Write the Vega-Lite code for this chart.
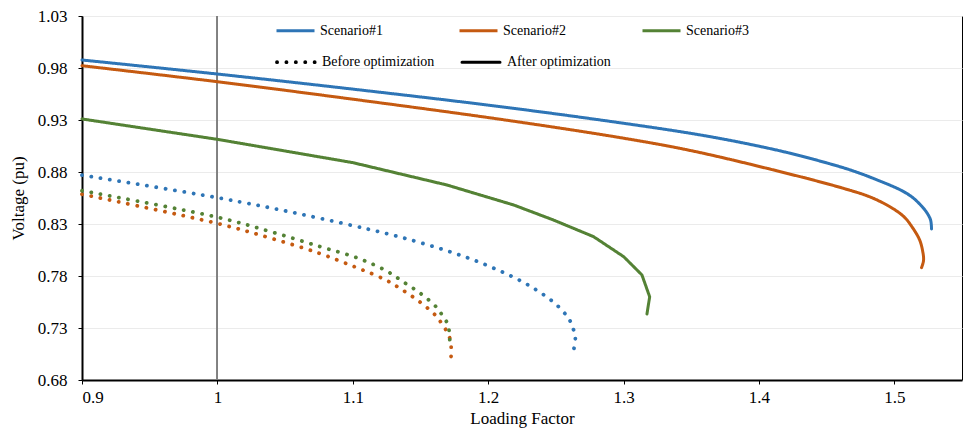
{
  "$schema": "https://vega.github.io/schema/vega-lite/v6.json",
  "width": 880,
  "height": 364,
  "autosize": {"type": "none"},
  "padding": {"left": 82, "top": 16, "right": 1, "bottom": 51},
  "background": "white",
  "config": {
    "font": "Times New Roman",
    "view": {"stroke": "#000", "strokeWidth": 1},
    "axis": {
      "labelFont": "Times New Roman",
      "labelFontSize": 17,
      "labelColor": "#000",
      "titleFont": "Times New Roman",
      "titleFontSize": 17,
      "titleFontWeight": "normal",
      "titleColor": "#000",
      "domainColor": "#000",
      "domainWidth": 2,
      "tickColor": "#000",
      "tickWidth": 1,
      "tickSize": 4
    },
    "legend": {
      "labelFont": "Times New Roman",
      "labelFontSize": 14,
      "labelColor": "#000"
    }
  },
  "data": {
    "values": [
      {"scenario": "Scenario#1", "phase": "After optimization", "L": 0.9, "v": 0.9877},
      {"scenario": "Scenario#1", "phase": "After optimization", "L": 1.0, "v": 0.9742},
      {"scenario": "Scenario#1", "phase": "After optimization", "L": 1.1, "v": 0.9597},
      {"scenario": "Scenario#1", "phase": "After optimization", "L": 1.2, "v": 0.9443},
      {"scenario": "Scenario#1", "phase": "After optimization", "L": 1.2829, "v": 0.930},
      {"scenario": "Scenario#1", "phase": "After optimization", "L": 1.3568, "v": 0.9156},
      {"scenario": "Scenario#1", "phase": "After optimization", "L": 1.4011, "v": 0.9045},
      {"scenario": "Scenario#1", "phase": "After optimization", "L": 1.4307, "v": 0.8955},
      {"scenario": "Scenario#1", "phase": "After optimization", "L": 1.4676, "v": 0.8819},
      {"scenario": "Scenario#1", "phase": "After optimization", "L": 1.4880, "v": 0.8720},
      {"scenario": "Scenario#1", "phase": "After optimization", "L": 1.5046, "v": 0.8627},
      {"scenario": "Scenario#1", "phase": "After optimization", "L": 1.5130, "v": 0.8560},
      {"scenario": "Scenario#1", "phase": "After optimization", "L": 1.5194, "v": 0.8483},
      {"scenario": "Scenario#1", "phase": "After optimization", "L": 1.5240, "v": 0.8410},
      {"scenario": "Scenario#1", "phase": "After optimization", "L": 1.5268, "v": 0.8338},
      {"scenario": "Scenario#1", "phase": "After optimization", "L": 1.5275, "v": 0.8252},

      {"scenario": "Scenario#2", "phase": "After optimization", "L": 0.9, "v": 0.9822},
      {"scenario": "Scenario#2", "phase": "After optimization", "L": 1.0, "v": 0.9668},
      {"scenario": "Scenario#2", "phase": "After optimization", "L": 1.1, "v": 0.950},
      {"scenario": "Scenario#2", "phase": "After optimization", "L": 1.2126, "v": 0.930},
      {"scenario": "Scenario#2", "phase": "After optimization", "L": 1.3, "v": 0.9125},
      {"scenario": "Scenario#2", "phase": "After optimization", "L": 1.35, "v": 0.9005},
      {"scenario": "Scenario#2", "phase": "After optimization", "L": 1.4137, "v": 0.881},
      {"scenario": "Scenario#2", "phase": "After optimization", "L": 1.4618, "v": 0.8645},
      {"scenario": "Scenario#2", "phase": "After optimization", "L": 1.4830, "v": 0.8555},
      {"scenario": "Scenario#2", "phase": "After optimization", "L": 1.4988, "v": 0.845},
      {"scenario": "Scenario#2", "phase": "After optimization", "L": 1.5075, "v": 0.8365},
      {"scenario": "Scenario#2", "phase": "After optimization", "L": 1.5132, "v": 0.827},
      {"scenario": "Scenario#2", "phase": "After optimization", "L": 1.5186, "v": 0.815},
      {"scenario": "Scenario#2", "phase": "After optimization", "L": 1.5208, "v": 0.805},
      {"scenario": "Scenario#2", "phase": "After optimization", "L": 1.5216, "v": 0.795},
      {"scenario": "Scenario#2", "phase": "After optimization", "L": 1.5201, "v": 0.788},

      {"scenario": "Scenario#3", "phase": "After optimization", "L": 0.9, "v": 0.931},
      {"scenario": "Scenario#3", "phase": "After optimization", "L": 1.0, "v": 0.9114},
      {"scenario": "Scenario#3", "phase": "After optimization", "L": 1.1, "v": 0.889},
      {"scenario": "Scenario#3", "phase": "After optimization", "L": 1.1695, "v": 0.8675},
      {"scenario": "Scenario#3", "phase": "After optimization", "L": 1.2188, "v": 0.8483},
      {"scenario": "Scenario#3", "phase": "After optimization", "L": 1.2483, "v": 0.8338},
      {"scenario": "Scenario#3", "phase": "After optimization", "L": 1.2779, "v": 0.8178},
      {"scenario": "Scenario#3", "phase": "After optimization", "L": 1.3001, "v": 0.7986},
      {"scenario": "Scenario#3", "phase": "After optimization", "L": 1.3136, "v": 0.781},
      {"scenario": "Scenario#3", "phase": "After optimization", "L": 1.3193, "v": 0.760},
      {"scenario": "Scenario#3", "phase": "After optimization", "L": 1.3173, "v": 0.7435},

      {"scenario": "Scenario#1", "phase": "Before optimization", "L": 0.9, "v": 0.877},
      {"scenario": "Scenario#1", "phase": "Before optimization", "L": 1.0, "v": 0.8553},
      {"scenario": "Scenario#1", "phase": "Before optimization", "L": 1.0611, "v": 0.8396},
      {"scenario": "Scenario#1", "phase": "Before optimization", "L": 1.1252, "v": 0.8207},
      {"scenario": "Scenario#1", "phase": "Before optimization", "L": 1.1473, "v": 0.813},
      {"scenario": "Scenario#1", "phase": "Before optimization", "L": 1.1695, "v": 0.8043},
      {"scenario": "Scenario#1", "phase": "Before optimization", "L": 1.19, "v": 0.795},
      {"scenario": "Scenario#1", "phase": "Before optimization", "L": 1.2109, "v": 0.7836},
      {"scenario": "Scenario#1", "phase": "Before optimization", "L": 1.2308, "v": 0.7704},
      {"scenario": "Scenario#1", "phase": "Before optimization", "L": 1.2493, "v": 0.7537},
      {"scenario": "Scenario#1", "phase": "Before optimization", "L": 1.2594, "v": 0.7393},
      {"scenario": "Scenario#1", "phase": "Before optimization", "L": 1.2624, "v": 0.7307},
      {"scenario": "Scenario#1", "phase": "Before optimization", "L": 1.2644, "v": 0.7213},
      {"scenario": "Scenario#1", "phase": "Before optimization", "L": 1.2634, "v": 0.7105},

      {"scenario": "Scenario#2", "phase": "Before optimization", "L": 0.9, "v": 0.8586},
      {"scenario": "Scenario#2", "phase": "Before optimization", "L": 1.0, "v": 0.8305},
      {"scenario": "Scenario#2", "phase": "Before optimization", "L": 1.039, "v": 0.8165},
      {"scenario": "Scenario#2", "phase": "Before optimization", "L": 1.0754, "v": 0.8018},
      {"scenario": "Scenario#2", "phase": "Before optimization", "L": 1.103, "v": 0.788},
      {"scenario": "Scenario#2", "phase": "Before optimization", "L": 1.1239, "v": 0.7765},
      {"scenario": "Scenario#2", "phase": "Before optimization", "L": 1.137, "v": 0.7663},
      {"scenario": "Scenario#2", "phase": "Before optimization", "L": 1.1493, "v": 0.7553},
      {"scenario": "Scenario#2", "phase": "Before optimization", "L": 1.1609, "v": 0.7425},
      {"scenario": "Scenario#2", "phase": "Before optimization", "L": 1.1653, "v": 0.7351},
      {"scenario": "Scenario#2", "phase": "Before optimization", "L": 1.1695, "v": 0.7265},
      {"scenario": "Scenario#2", "phase": "Before optimization", "L": 1.1722, "v": 0.7178},
      {"scenario": "Scenario#2", "phase": "Before optimization", "L": 1.1727, "v": 0.7079},
      {"scenario": "Scenario#2", "phase": "Before optimization", "L": 1.1724, "v": 0.6975},

      {"scenario": "Scenario#3", "phase": "Before optimization", "L": 0.9, "v": 0.862},
      {"scenario": "Scenario#3", "phase": "Before optimization", "L": 1.0, "v": 0.8365},
      {"scenario": "Scenario#3", "phase": "Before optimization", "L": 1.0402, "v": 0.8223},
      {"scenario": "Scenario#3", "phase": "Before optimization", "L": 1.0759, "v": 0.8082},
      {"scenario": "Scenario#3", "phase": "Before optimization", "L": 1.1042, "v": 0.797},
      {"scenario": "Scenario#3", "phase": "Before optimization", "L": 1.1247, "v": 0.785},
      {"scenario": "Scenario#3", "phase": "Before optimization", "L": 1.1382, "v": 0.7736},
      {"scenario": "Scenario#3", "phase": "Before optimization", "L": 1.1506, "v": 0.7627},
      {"scenario": "Scenario#3", "phase": "Before optimization", "L": 1.1619, "v": 0.7499},
      {"scenario": "Scenario#3", "phase": "Before optimization", "L": 1.1663, "v": 0.7418},
      {"scenario": "Scenario#3", "phase": "Before optimization", "L": 1.1702, "v": 0.7335},
      {"scenario": "Scenario#3", "phase": "Before optimization", "L": 1.1714, "v": 0.724},
      {"scenario": "Scenario#3", "phase": "Before optimization", "L": 1.1717, "v": 0.7135}
    ]
  },
  "layer": [
    {
      "mark": {"type": "rule", "color": "#808080", "strokeWidth": 1},
      "encoding": {"x": {"datum": 1, "type": "quantitative"}}
    },
    {
      "encoding": {
        "x": {
          "field": "L",
          "type": "quantitative",
          "scale": {"domain": [0.9, 1.55], "nice": false, "zero": false},
          "axis": {
            "title": "Loading Factor",
            "values": [0.9, 1.0, 1.1, 1.2, 1.3, 1.4, 1.5],
            "format": "~g",
            "grid": false,
            "labelPadding": 5,
            "titlePadding": 5
          }
        },
        "y": {
          "field": "v",
          "type": "quantitative",
          "scale": {"domain": [0.68, 1.03], "nice": false, "zero": false},
          "axis": {
            "title": "Voltage (pu)",
            "values": [0.68, 0.73, 0.78, 0.83, 0.88, 0.93, 0.98, 1.03],
            "format": ".2f",
            "grid": true,
            "gridColor": "#ebebeb",
            "gridWidth": 1,
            "labelPadding": 11,
            "titlePadding": 10
          }
        },
        "order": {"field": "v", "sort": "descending"},
        "color": {
          "field": "scenario",
          "type": "nominal",
          "scale": {
            "domain": ["Scenario#1", "Scenario#2", "Scenario#3"],
            "range": ["#2E75B6", "#C55A11", "#548235"]
          },
          "legend": {
            "title": null,
            "orient": "none",
            "legendX": 193,
            "legendY": -6,
            "direction": "horizontal",
            "columns": 3,
            "gridAlign": "all",
            "columnPadding": 70,
            "padding": 0,
            "symbolType": "stroke",
            "symbolSize": 1444,
            "symbolStrokeWidth": 3,
            "labelOffset": 4
          }
        },
        "strokeDash": {
          "field": "phase",
          "type": "nominal",
          "scale": {
            "domain": ["Before optimization", "After optimization"],
            "range": [[0.1, 9.3], [1, 0]]
          },
          "legend": {
            "title": null,
            "orient": "none",
            "legendX": 193,
            "legendY": 25,
            "direction": "horizontal",
            "columns": 3,
            "gridAlign": "each",
            "columnPadding": 21,
            "padding": 0,
            "symbolType": "stroke",
            "symbolSize": 1444,
            "symbolStrokeWidth": 3.5,
            "symbolStrokeColor": "#000",
            "labelOffset": 5,
            "encode": {"symbols": {"update": {"strokeCap": {"value": "round"}}}}
          }
        },
        "strokeWidth": {
          "field": "phase",
          "type": "nominal",
          "scale": {
            "domain": ["Before optimization", "After optimization"],
            "range": [3.8, 3]
          },
          "legend": null
        }
      },
      "layer": [
        {
          "transform": [{"filter": "!(datum.scenario === 'Scenario#3' && datum.phase === 'After optimization')"}],
          "mark": {"type": "line", "strokeCap": "round", "strokeJoin": "round", "interpolate": "catmull-rom"}
        },
        {
          "transform": [{"filter": "datum.scenario === 'Scenario#3' && datum.phase === 'After optimization'"}],
          "mark": {"type": "line", "strokeCap": "round", "strokeJoin": "round", "interpolate": "linear"}
        }
      ]
    }
  ]
}
